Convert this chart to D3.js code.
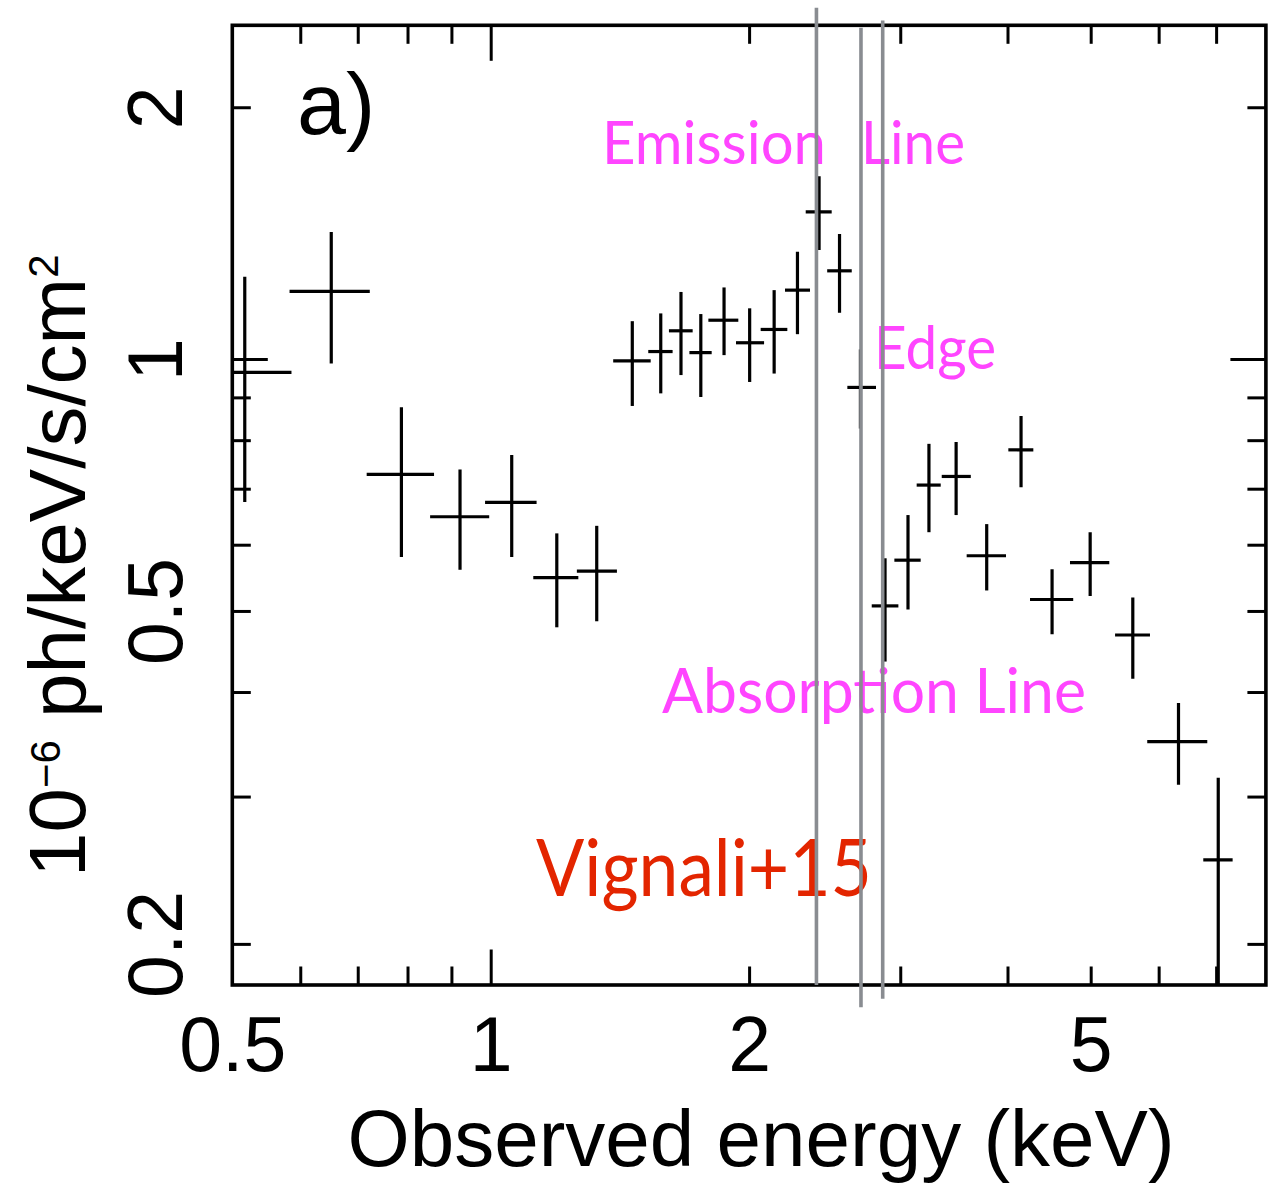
<!DOCTYPE html>
<html><head><meta charset="utf-8">
<script src="https://cdn.jsdelivr.net/npm/d3@7"></script>
<style>html,body{margin:0;padding:0;background:#fff;} svg{display:block;}</style>
</head><body>
<svg id="chart" width="1268" height="1183"></svg>
<script>
// ---- data ----
const energy   = [0.517, 0.652, 0.787, 0.921, 1.058, 1.194, 1.329, 1.462, 1.578, 1.666, 1.757, 1.870, 2.003, 2.139, 2.277, 2.413, 2.549, 2.696, 2.880, 3.063, 3.240, 3.485, 3.783, 4.148, 4.508, 4.993, 5.598, 6.328, 7.040];
const energyLo = [0.447, 0.583, 0.717, 0.850, 0.985, 1.121, 1.260, 1.389, 1.526, 1.613, 1.704, 1.793, 1.931, 2.063, 2.202, 2.328, 2.466, 2.603, 2.779, 2.953, 3.135, 3.353, 3.585, 4.009, 4.249, 4.730, 5.338, 5.819, 6.763];
const energyHi = [0.586, 0.723, 0.859, 0.996, 1.131, 1.265, 1.403, 1.536, 1.629, 1.719, 1.809, 1.943, 2.082, 2.216, 2.355, 2.496, 2.634, 2.811, 2.985, 3.169, 3.344, 3.625, 3.984, 4.287, 4.771, 5.256, 5.862, 6.836, 7.317];
const flux     = [0.964, 1.205, 0.728, 0.648, 0.674, 0.548, 0.558, 0.995, 1.021, 1.081, 1.018, 1.113, 1.046, 1.085, 1.209, 1.500, 1.275, 0.925, 0.507, 0.575, 0.707, 0.724, 0.582, 0.779, 0.516, 0.571, 0.468, 0.349, 0.252];
const fluxLo   = [0.675, 0.988, 0.580, 0.560, 0.580, 0.478, 0.486, 0.879, 0.910, 0.957, 0.901, 1.011, 0.939, 0.961, 1.071, 1.350, 1.136, 0.826, 0.435, 0.502, 0.621, 0.651, 0.529, 0.703, 0.469, 0.521, 0.415, 0.310, 0.100];
const fluxHi   = [1.254, 1.419, 0.876, 0.738, 0.768, 0.619, 0.632, 1.110, 1.134, 1.203, 1.132, 1.218, 1.150, 1.209, 1.344, 1.654, 1.411, 1.027, 0.578, 0.651, 0.792, 0.796, 0.635, 0.855, 0.561, 0.621, 0.519, 0.388, 0.316];

const xTickLabels = [0.5, 1, 2, 5];
const yTickLabels = [2, 1, 0.5, 0.2];
const xMinorTicks = [0.6, 0.7, 0.8, 0.9, 2, 3, 4, 5, 6, 7];
const xMajorTicks = [1];
const yMinorTicks = [0.2, 0.3, 0.4, 0.5, 0.6, 0.7, 0.8, 0.9, 2];
const yMajorTicks = [1];

// vertical marker lines (energy, top flux, bottom flux)
const markerEnergy = [2.396, 2.700, 2.862];
const markerTop    = [2.63, 2.49, 2.54];
const markerBottom = [0.1786, 0.168, 0.172];

const annotations = ["Emission", "Line", "Edge", "Absorption Line"];
const creditText = "Vignali+15";

// ---- layout ----
const L = 232.3, R = 1265.9, T = 25.3, B = 985;
const x = d3.scaleLog().domain([0.5, 8]).range([L, R]);
const y = d3.scaleLog().domain([0.1786, 2.506]).range([B, T]);
const svg = d3.select('#chart');
const axFont = "'Liberation Sans', Arial, Helvetica, sans-serif";
const annFont = "Lato, 'Open Sans', sans-serif";

svg.append('defs').append('clipPath').attr('id', 'plotclip')
  .append('rect').attr('x', L).attr('y', T).attr('width', R - L).attr('height', B - T);

function tickStyle(g) {
  g.select('.domain').remove();
  g.selectAll('text').remove();
  g.selectAll('line').attr('stroke', '#000').attr('stroke-width', 3);
}
const minor = 18.5, major = 35.5;
[[xMinorTicks, minor], [xMajorTicks, major]].forEach(([vals, len]) => {
  svg.append('g').attr('transform', `translate(0,${B})`)
    .call(d3.axisBottom(x).tickValues(vals).tickSizeInner(-len).tickSizeOuter(0)).call(tickStyle);
  svg.append('g').attr('transform', `translate(0,${T})`)
    .call(d3.axisTop(x).tickValues(vals).tickSizeInner(-len).tickSizeOuter(0)).call(tickStyle);
});
[[yMinorTicks, minor], [yMajorTicks, major]].forEach(([vals, len]) => {
  svg.append('g').attr('transform', `translate(${L},0)`)
    .call(d3.axisLeft(y).tickValues(vals).tickSizeInner(-len).tickSizeOuter(0)).call(tickStyle);
  svg.append('g').attr('transform', `translate(${R},0)`)
    .call(d3.axisRight(y).tickValues(vals).tickSizeInner(-len).tickSizeOuter(0)).call(tickStyle);
});

// frame
svg.append('rect').attr('x', L).attr('y', T).attr('width', R - L).attr('height', B - T)
  .attr('fill', 'none').attr('stroke', '#000').attr('stroke-width', 3.6);

// x tick labels
const gxl = svg.append('g').attr('transform', `translate(0,${B})`)
  .call(d3.axisBottom(x).tickValues(xTickLabels).tickSize(0).tickPadding(31).tickFormat(d3.format('')));
gxl.select('.domain').remove();
gxl.attr('font-family', axFont).attr('font-size', 77);
gxl.selectAll('text').attr('fill', '#000');

// y tick labels (rotated)
const gyl = svg.append('g').attr('transform', `translate(${L},0)`)
  .call(d3.axisLeft(y).tickValues(yTickLabels).tickSize(0).tickFormat(d3.format('')));
gyl.select('.domain').remove();
gyl.attr('font-family', axFont).attr('font-size', 77);
gyl.selectAll('text').attr('fill', '#000').attr('x', 0).attr('y', -50).attr('dy', 0)
  .attr('text-anchor', 'middle').attr('transform', 'rotate(-90)');

// axis titles
svg.append('text').attr('x', 761).attr('y', 1166).attr('text-anchor', 'middle')
  .attr('font-family', axFont).attr('font-size', 80).text('Observed energy (keV)');

const yt = svg.append('text').attr('transform', 'translate(85,877) rotate(-90)')
  .attr('font-family', axFont).attr('font-size', 80).attr('text-anchor', 'start');
yt.append('tspan').text('10');
yt.append('tspan').attr('font-size', 42).attr('dy', -25).text('\u22126');
yt.append('tspan').attr('dy', 25).text(' ph/keV/s/cm');
yt.append('tspan').attr('font-size', 42).attr('dy', -27).text('2');

// panel label
svg.append('text').attr('x', 297).attr('y', 134).attr('font-family', axFont)
  .attr('font-size', 88).text('a)');

// data error crosses
const pts = energy.map((e, i) => ({e, lo: energyLo[i], hi: energyHi[i], f: flux[i], flo: fluxLo[i], fhi: fluxHi[i]}));
const gd = svg.append('g').attr('clip-path', 'url(#plotclip)')
  .attr('stroke', '#000').attr('stroke-width', 3.2);
gd.selectAll('line.h').data(pts).join('line').attr('class', 'h')
  .attr('x1', d => x(d.lo)).attr('x2', d => x(d.hi))
  .attr('y1', d => y(d.f)).attr('y2', d => y(d.f));
gd.selectAll('line.v').data(pts).join('line').attr('class', 'v')
  .attr('x1', d => x(d.e)).attr('x2', d => x(d.e))
  .attr('y1', d => y(d.flo)).attr('y2', d => y(d.fhi));

// annotations
const pink = '#ff45ff';
const t1 = svg.append('text').attr('y', 164).attr('font-family', annFont)
  .attr('font-size', 60).attr('fill', pink).style('white-space', 'pre');
t1.append('tspan').attr('x', 602).attr('textLength', 224).attr('lengthAdjust', 'spacingAndGlyphs').text(annotations[0]);
t1.append('tspan').text('  ');
t1.append('tspan').attr('x', 861).attr('textLength', 104).attr('lengthAdjust', 'spacingAndGlyphs').text(annotations[1]);
svg.append('text').attr('x', 874).attr('y', 369).attr('font-family', annFont)
  .attr('font-size', 60).attr('fill', pink)
  .attr('textLength', 122).attr('lengthAdjust', 'spacingAndGlyphs').text(annotations[2]);
svg.append('text').attr('x', 662).attr('y', 713).attr('font-family', annFont)
  .attr('font-size', 61).attr('fill', pink)
  .attr('textLength', 424).attr('lengthAdjust', 'spacingAndGlyphs').text(annotations[3]);
svg.append('text').attr('x', 536).attr('y', 896).attr('font-family', annFont)
  .attr('font-size', 79).attr('fill', '#e32500')
  .attr('textLength', 336).attr('lengthAdjust', 'spacingAndGlyphs').text(creditText);

// vertical marker lines (drawn on top)
const marks = markerEnergy.map((e, i) => ({e, top: markerTop[i], bot: markerBottom[i]}));
svg.append('g').selectAll('line').data(marks).join('line')
  .attr('x1', d => x(d.e)).attr('x2', d => x(d.e))
  .attr('y1', d => y(d.top)).attr('y2', d => y(d.bot))
  .attr('stroke', '#898c91').attr('stroke-width', 3.6);
</script>
</body></html>
